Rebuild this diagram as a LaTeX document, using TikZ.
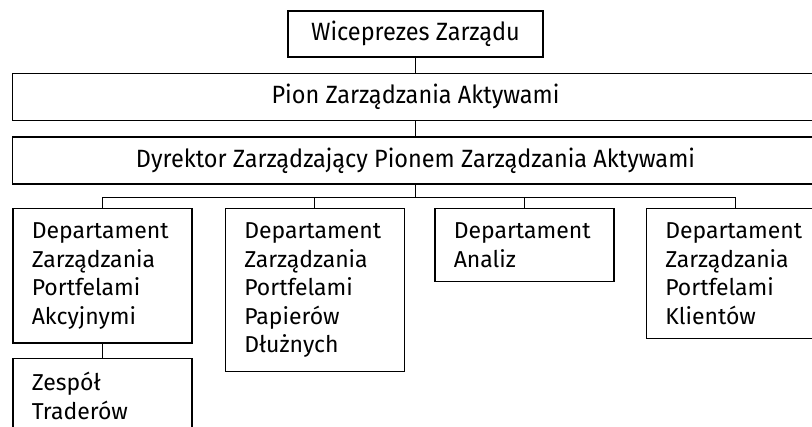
\documentclass[tikz,border=0pt]{standalone}
\usepackage{fontspec}
\setmainfont{Fira Sans}
\newfontfamily\narrowfont[FakeStretch=0.94]{Fira Sans}
\usetikzlibrary{positioning}

\begin{document}
\begin{tikzpicture}[x=1pt,y=-1pt,
box/.style={draw,line width=1.5pt,inner sep=0pt},
headbox/.style={box,font=\narrowfont\fontsize{25}{28}\selectfont},
deptbox/.style={box,anchor=north west,text width=141pt,inner xsep=19pt,
inner ysep=14pt,align=left,font=\fontsize{23}{28.5}\selectfont},
conn/.style={line width=0.8pt}]
\clip(0,0)rectangle(812,427);
% top of the chart
\node[headbox,minimum width=255pt,minimum height=46pt](WZ)at(415.5,34){Wiceprezes Zarządu};
\node[headbox,below=15pt of WZ,minimum width=806pt,minimum height=47pt](PZA){Pion Zarządzania Aktywami};
\node[headbox,below=15pt of PZA,minimum width=806pt,minimum height=47pt](DZ){Dyrektor Zarządzający Pionem Zarządzania Aktywami};
\draw[conn](WZ.south)--(PZA.north);
\draw[conn](PZA.south)--(DZ.north);

% departments
\node[deptbox](D1)at(12,208){Departament\\Zarządzania\\Portfelami\\Akcyjnymi};
\node[deptbox,right=32pt of D1.north east,anchor=north west](D2){Departament\\Zarządzania\\Portfelami\\Papierów\\Dłużnych};
\node[deptbox,right=29pt of D2.north east,anchor=north west](D3){Departament\\Analiz};
\node[deptbox,right=31pt of D3.north east,anchor=north west](D4){Departament\\Zarządzania\\Portfelami\\Klientów};
\node[deptbox,below=14pt of D1.south west,anchor=north west](ZT){Zespół\\Traderów};

\coordinate(BUS)at([yshift=-13pt]DZ.south);
\draw[conn](DZ.south)--(BUS);
\draw[conn](D1.north)|-(BUS)-|(D4.north);
\draw[conn](D2.north)--(D2.north|-BUS);
\draw[conn](D3.north)--(D3.north|-BUS);
\draw[conn](D1.south)--(ZT.north);
\end{tikzpicture}
\end{document}
